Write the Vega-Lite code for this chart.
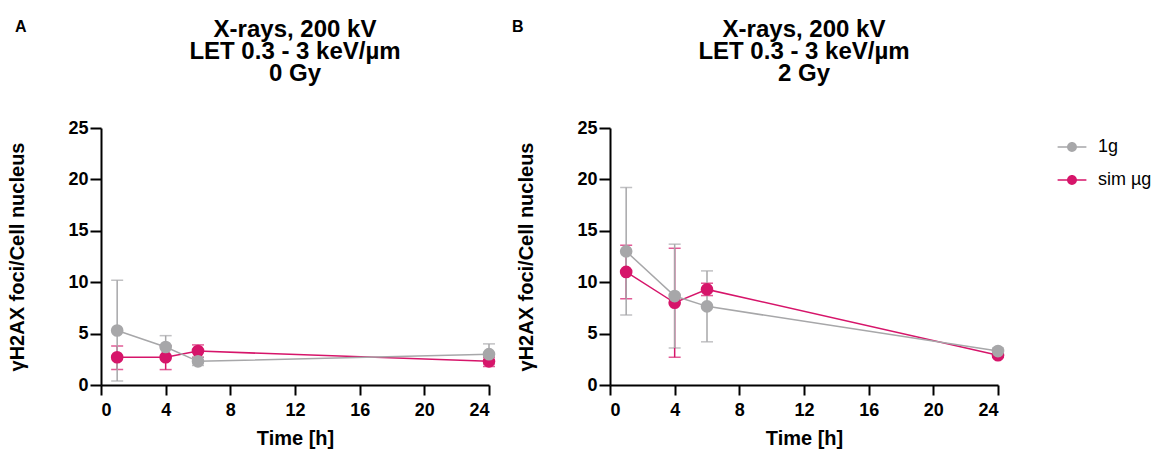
{
  "$schema": "https://vega.github.io/schema/vega-lite/v6.json",
  "background": "white",
  "padding": {"left": 7, "top": 18, "right": 2, "bottom": 2},
  "datasets": {
    "foci": [
      {"dose": "0 Gy", "group": "sim µg", "time": 1, "mean": 2.7, "lo": 1.5, "hi": 3.8},
      {"dose": "0 Gy", "group": "sim µg", "time": 4, "mean": 2.7, "lo": 1.5, "hi": 3.8},
      {"dose": "0 Gy", "group": "sim µg", "time": 6, "mean": 3.3, "lo": 2.7, "hi": 3.9},
      {"dose": "0 Gy", "group": "sim µg", "time": 24, "mean": 2.3, "lo": 1.8, "hi": 2.7},
      {"dose": "0 Gy", "group": "1g", "time": 1, "mean": 5.3, "lo": 0.4, "hi": 10.2},
      {"dose": "0 Gy", "group": "1g", "time": 4, "mean": 3.7, "lo": 2.6, "hi": 4.8},
      {"dose": "0 Gy", "group": "1g", "time": 6, "mean": 2.3, "lo": 1.9, "hi": 2.7},
      {"dose": "0 Gy", "group": "1g", "time": 24, "mean": 3.0, "lo": 2.0, "hi": 4.0},
      {"dose": "2 Gy", "group": "sim µg", "time": 1, "mean": 11.0, "lo": 8.4, "hi": 13.6},
      {"dose": "2 Gy", "group": "sim µg", "time": 4, "mean": 8.0, "lo": 2.7, "hi": 13.3},
      {"dose": "2 Gy", "group": "sim µg", "time": 6, "mean": 9.3, "lo": 8.7, "hi": 9.9},
      {"dose": "2 Gy", "group": "sim µg", "time": 24, "mean": 2.9, "lo": 2.7, "hi": 3.1},
      {"dose": "2 Gy", "group": "1g", "time": 1, "mean": 13.0, "lo": 6.8, "hi": 19.2},
      {"dose": "2 Gy", "group": "1g", "time": 4, "mean": 8.65, "lo": 3.6, "hi": 13.7},
      {"dose": "2 Gy", "group": "1g", "time": 6, "mean": 7.65, "lo": 4.2, "hi": 11.1},
      {"dose": "2 Gy", "group": "1g", "time": 24, "mean": 3.3, "lo": 3.0, "hi": 3.6}
    ]
  },
  "config": {
    "font": "Liberation Sans",
    "view": {"stroke": null},
    "axis": {
      "grid": false,
      "domainColor": "black",
      "domainWidth": 2,
      "tickColor": "black",
      "tickWidth": 2,
      "labelFont": "Liberation Sans",
      "labelFontSize": 18,
      "labelFontWeight": "bold",
      "labelColor": "black",
      "titleFont": "Liberation Sans",
      "titleFontSize": 20,
      "titleFontWeight": "bold",
      "titleColor": "black"
    },
    "axisX": {"tickSize": 10, "labelPadding": 6, "titlePadding": 9},
    "axisY": {"tickSize": 11, "labelPadding": 2, "titlePadding": 40},
    "title": {"font": "Liberation Sans", "fontSize": 24, "fontWeight": "bold", "color": "black"},
    "legend": {
      "labelFont": "Liberation Sans",
      "labelFontSize": 18,
      "labelColor": "black",
      "symbolType": "M-1.6,-0.09H1.6V0.09H-1.6Z M0.55,0A0.55,0.55,0,1,1,-0.55,0A0.55,0.55,0,1,1,0.55,0Z",
      "symbolSize": 324,
      "symbolOpacity": 1,
      "symbolStrokeWidth": 0,
      "labelOffset": 17,
      "rowPadding": 15,
      "padding": 10,
      "offset": 48
    }
  },
  "spacing": 15,
  "hconcat": [
    {
      "title": {"text": "A", "anchor": "start", "frame": "bounds", "fontSize": 16, "dx": 7, "offset": -17},
      "vconcat": [
        {
          "title": {"text": ["X-rays, 200 kV", "LET 0.3 - 3 keV/µm", "0 Gy"], "anchor": "middle", "frame": "group", "lineHeight": 22, "offset": 33},
          "width": 388,
          "height": 257,
          "data": {"name": "foci"},
          "transform": [{"filter": "datum.dose == '0 Gy'"}],
          "encoding": {
            "x": {"field": "time", "type": "quantitative", "scale": {"domain": [0, 24], "nice": false}, "axis": {"values": [0, 4, 8, 12, 16, 20, 24], "title": "Time [h]"}},
            "color": {"field": "group", "type": "nominal", "scale": {"domain": ["1g", "sim µg"], "range": ["#a7a7a9", "#d6156a"]}, "title": null}
          },
          "layer": [
            {
              "mark": {"type": "errorbar", "ticks": {"size": 12}, "thickness": 1.5},
              "encoding": {
                "y": {"field": "lo", "type": "quantitative", "scale": {"domain": [0, 25], "nice": false}, "axis": {"values": [0, 5, 10, 15, 20, 25], "title": "γH2AX foci/Cell nucleus"}},
                "y2": {"field": "hi"}
              }
            },
            {
              "mark": {"type": "line", "strokeWidth": 1.5},
              "encoding": {"y": {"field": "mean", "type": "quantitative", "axis": {"title": "γH2AX foci/Cell nucleus"}}}
            },
            {
              "mark": {"type": "point", "filled": true, "size": 160, "opacity": 1},
              "encoding": {"y": {"field": "mean", "type": "quantitative", "axis": {"title": "γH2AX foci/Cell nucleus"}}}
            }
          ]
        }
      ]
    },
    {
      "title": {"text": "B", "anchor": "start", "frame": "bounds", "fontSize": 16, "dx": -5, "offset": -17},
      "vconcat": [
        {
          "title": {"text": ["X-rays, 200 kV", "LET 0.3 - 3 keV/µm", "2 Gy"], "anchor": "middle", "frame": "group", "lineHeight": 22, "offset": 33},
          "width": 388,
          "height": 257,
          "data": {"name": "foci"},
          "transform": [{"filter": "datum.dose == '2 Gy'"}],
          "encoding": {
            "x": {"field": "time", "type": "quantitative", "scale": {"domain": [0, 24], "nice": false}, "axis": {"values": [0, 4, 8, 12, 16, 20, 24], "title": "Time [h]"}},
            "color": {"field": "group", "type": "nominal", "scale": {"domain": ["1g", "sim µg"], "range": ["#a7a7a9", "#d6156a"]}, "title": null}
          },
          "layer": [
            {
              "mark": {"type": "errorbar", "ticks": {"size": 12}, "thickness": 1.5},
              "encoding": {
                "y": {"field": "lo", "type": "quantitative", "scale": {"domain": [0, 25], "nice": false}, "axis": {"values": [0, 5, 10, 15, 20, 25], "title": "γH2AX foci/Cell nucleus"}},
                "y2": {"field": "hi"}
              }
            },
            {
              "mark": {"type": "line", "strokeWidth": 1.5},
              "encoding": {"y": {"field": "mean", "type": "quantitative", "axis": {"title": "γH2AX foci/Cell nucleus"}}}
            },
            {
              "mark": {"type": "point", "filled": true, "size": 160, "opacity": 1},
              "encoding": {"y": {"field": "mean", "type": "quantitative", "axis": {"title": "γH2AX foci/Cell nucleus"}}}
            }
          ]
        }
      ]
    }
  ]
}
